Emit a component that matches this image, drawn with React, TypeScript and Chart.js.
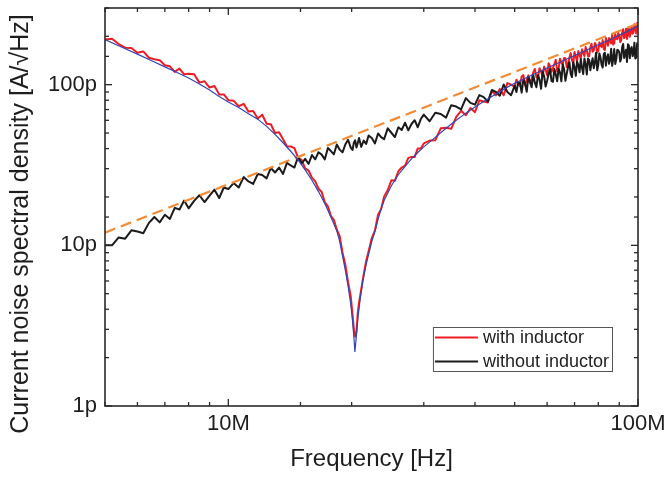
import React, { useEffect, useRef } from 'react';
import { Chart, registerables } from 'chart.js';

Chart.register(...registerables);

// ---- data (frequency in MHz, noise density in pA/√Hz) ----
const freqMHz = [
  5.0, 5.2, 5.4, 5.6, 5.8, 6.0, 6.2, 6.4, 6.6, 6.8, 7.0, 7.2, 7.4, 7.6, 7.8, 8.0, 8.25, 8.5, 8.75, 9.0, 9.25, 9.5, 9.75, 10.0,
  10.3, 10.6, 10.9, 11.2, 11.5, 11.8, 12.1, 12.4, 12.7, 13.0, 13.3, 13.6, 13.9, 14.2, 14.5, 14.8, 15.1, 15.4, 15.7, 16.0,
  16.3, 16.6, 16.9, 17.2, 17.5, 17.8, 18.1, 18.4, 18.7, 19.0, 19.3, 19.6, 19.9, 20.1, 20.25, 20.4, 20.55, 20.7, 20.85, 21.1, 21.4, 21.7, 22.0,
  22.4, 22.8, 23.2, 23.6, 24.0, 24.5, 25.0, 25.5, 26.0, 26.5, 27.0, 27.5, 28.0, 28.5, 29.0, 29.5, 30.0,
  31, 32, 33, 34, 35, 36, 37, 38, 39, 40, 41, 42, 43, 44, 45, 46, 47, 48, 49, 50,
  50.5, 51, 51.5, 52, 52.5, 53, 53.5, 54, 54.5, 55,
  55.5, 56, 56.5, 57, 57.5, 58, 58.5, 59, 59.5, 60,
  60.5, 61, 61.5, 62, 62.5, 63, 63.5, 64, 64.5, 65,
  65.5, 66, 66.5, 67, 67.5, 68, 68.5, 69, 69.5, 70,
  70.5, 71, 71.5, 72, 72.5, 73, 73.5, 74, 74.5, 75,
  75.5, 76, 76.5, 77, 77.5, 78, 78.5, 79, 79.5, 80,
  80.5, 81, 81.5, 82, 82.5, 83, 83.5, 84, 84.5, 85,
  85.5, 86, 86.5, 87, 87.5, 88, 88.5, 89, 89.5, 90,
  90.5, 91, 91.5, 92, 92.5, 93, 93.5, 94, 94.5, 95,
  95.5, 96, 96.5, 97, 97.5, 98, 98.5, 99, 99.5, 100,
];

const withInductor = [
  191, 193, 179, 170, 169, 158, 161, 147, 144, 142, 132, 130, 120, 126, 116, 117, 116, 103, 105, 96, 98, 87, 87, 80,
  79.5, 73.4, 75.9, 68, 68.6, 61.6, 65, 57.2, 56.7, 50, 50.6, 45.7, 41.4, 41.2, 40.3, 35, 34, 30.1, 29.2, 26.4,
  25, 22.5, 21.5, 18.5, 17.5, 15.2, 14.4, 12.5, 11.4, 9.0, 7.6, 5.9, 4.8, 3.7, 3.0, 2.7, 2.9, 3.8, 4.4, 5.3, 6.6, 8.0, 9.2,
  11.1, 12.4, 15.5, 16.8, 20.1, 22.1, 25.4, 25.2, 28.9, 30.5, 31.3, 35, 35.5, 35.5, 40.1, 40.1, 43.1,
  44.9, 45.1, 53.5, 54, 53.1, 63, 68.7, 64.5, 71.6, 67.4, 80, 78.5, 77.4, 91.3, 85.8, 94.1, 86, 102.3, 100, 96.9,
  107.3, 101.4, 98.3, 112.4, 114.7, 99.6, 106.3, 114.2, 101.9, 108.8,
  119.2, 125.2, 111.1, 111.1, 126.7, 120.8, 112.1, 129.5, 123.2, 114.3,
  135.9, 130.8, 120.2, 126.7, 134.5, 142.6, 120.8, 126, 145.1, 136.7,
  133.7, 146.3, 146.1, 128.6, 135.5, 147, 157.1, 142, 135.6, 159.6,
  148.6, 140.6, 161.9, 152.3, 145.5, 165.9, 157.5, 150.7, 171.4, 162.9,
  150.8, 150.3, 171.6, 179.7, 160.5, 163.4, 181.9, 176.2, 158.1, 162.8,
  183.5, 174.1, 171.7, 189.3, 166.7, 164.2, 195, 183.3, 175, 195.2,
  188.8, 180.5, 205.1, 177.5, 180.5, 207.4, 192.7, 192, 209.6, 203,
  184, 189.5, 211.3, 221, 195, 200.5, 223.1, 192.6, 206.9, 223.5,
  198.8, 213.4, 230.4, 207.4, 211, 237.3, 225.2, 208.4, 242, 236.6,
];

const withoutInductor = [
  10.0, 10.0, 11.2, 11.0, 12.4, 12.2, 11.9, 13.8, 15.0, 13.9, 15.5, 14.6, 17.1, 16.7, 19.0, 17.0, 18.9, 20.5, 18.6, 20.4, 22.2, 19.7, 22.9, 22.4,
  24.4, 22.9, 26.6, 25.0, 24.1, 27.8, 27.4, 26.1, 30.3, 28.4, 30.5, 27.8, 32.6, 31.4, 30.5, 35.5, 32.3, 34.5, 32.1, 36.5,
  34.3, 38.0, 36.7, 34.3, 40.3, 38.6, 36.9, 42.4, 39.4, 37.9, 42.4, 45.4, 40.6, 39.2, 43.6, 45.0, 40.6, 43.4, 46.5, 41.0, 44.9, 42.8, 48.2,
  46.6, 43.1, 49.7, 47.1, 45.8, 53.5, 50.2, 47.2, 54.3, 52.2, 58.0, 52.0, 56.9, 60.1, 54.3, 61.1, 65.1,
  59.2, 66.8, 65.7, 62.3, 74.5, 73.1, 70.1, 82.5, 77.0, 75.1, 86.1, 83.6, 78.5, 92.7, 90.0, 85.4, 100.2, 90.1, 86.0, 98.7,
  90, 103.1, 102.9, 89.2, 107.5, 101.5, 90.3, 112, 104.7, 96.4,
  114.5, 103, 96.4, 115, 107.3, 94.3, 120.6, 112.9, 97.4, 105.7,
  116.3, 124.9, 105.6, 104.2, 125.1, 115.8, 105.1, 125.4, 119.2, 104.9,
  133.6, 125.1, 105.6, 117.1, 128.6, 137.9, 116.8, 111.5, 138, 129,
  113.5, 139.3, 132.5, 119.4, 144.3, 127.2, 116.3, 145.6, 134.6, 115.7,
  145.4, 142.3, 123, 135.8, 146, 126.5, 138.1, 158.1, 123, 133.4,
  156.5, 147.5, 132.7, 127.8, 155.5, 157.9, 131.2, 147.9, 154.4, 134.8,
  142.8, 167.2, 130.9, 145, 166.7, 134.4, 144.1, 164.7, 163.9, 158.6,
  139.2, 146.2, 171.8, 179, 146.5, 156.4, 164.8, 138.3, 178.6, 174.4,
  146.1, 167.4, 171.2, 150.7, 156, 182.6, 145.5, 147.6, 181, 174.9,
];

const fitFreqMHz = [
  5, 5.5, 6, 6.5, 7, 7.5, 8, 8.5, 9, 9.5, 10,
  10.6, 11.2, 11.8, 12.4, 13, 13.6, 14.2, 14.8, 15.4, 16,
  16.6, 17.2, 17.8, 18.4, 18.7, 19, 19.3, 19.6, 19.9, 20.1,
  20.25, 20.37, 20.5, 20.7, 21, 21.3, 21.7, 22, 22.4, 22.8,
  23.2, 23.6, 24, 25, 26, 27, 28, 29, 30, 32,
  34, 36, 38, 40, 42, 44, 46, 48, 50, 55,
  60, 65, 70, 75, 80, 85, 90, 95, 100,
];

const fitValues = [
  191, 171, 155, 141, 129, 119, 110, 101, 92.5, 84.5, 78,
  72, 66, 61, 55, 49, 43.5, 38.5, 34, 29.5, 25.4,
  21.6, 18.2, 15, 12.3, 10.6, 8.6, 7.0, 5.6, 4.3, 3.4,
  2.7, 2.17, 2.6, 3.5, 4.7, 6.0, 7.6, 8.8, 10.6, 12.2,
  14.5, 16.8, 19, 23.5, 27.5, 31, 34.5, 37.8, 41, 47,
  53.5, 60, 66.5, 72.5, 78.5, 84.5, 90.5, 96.5, 102, 114.5,
  127, 139.5, 152, 164.5, 177, 189.5, 203, 217, 232,
];

const guideFreqMHz = [5, 100];
const guideValues = [12, 240];

const xTickValues = [10, 100];
const xTickLabels = ['10M', '100M'];
const yTickValues = [1, 10, 100];
const yTickLabels = ['1p', '10p', '100p'];
const seriesLabels = ['with inductor', 'without inductor'];
const xTitle = 'Frequency [Hz]';
const yTitle = 'Current noise spectral density [A/\u221AHz]';

// ---- styles ----
const FONT = '"Liberation Sans", Arial, Helvetica, sans-serif';
const TEXT = '#1e1e1e';
const AXIS = '#2a2a2a';
const RED = '#ee1d23';
const BLACK = '#1b1b1b';
const BLUE = '#2f47b5';
const ORANGE = '#f28b35';

function labelFor(v: number, values: number[], labels: string[]) {
  for (let i = 0; i < values.length; i++) {
    if (Math.abs(v - values[i]) / values[i] < 1e-6) return labels[i];
  }
  return '';
}

function isDecade(v: number) {
  const l = Math.log10(v);
  return Math.abs(l - Math.round(l)) < 1e-6;
}

const framePlugin = {
  id: 'frameTicksLegend',
  afterDatasetsDraw(chart: any) {
    const { ctx, chartArea: a, scales } = chart;
    const x = scales.x;
    const y = scales.y;
    ctx.save();
    ctx.strokeStyle = AXIS;
    ctx.lineWidth = 1.6;
    ctx.lineCap = 'butt';
    ctx.strokeRect(a.left, a.top, a.right - a.left, a.bottom - a.top);
    ctx.lineWidth = 1.3;
    const seg = (x1: number, y1: number, x2: number, y2: number) => {
      ctx.beginPath();
      ctx.moveTo(x1, y1);
      ctx.lineTo(x2, y2);
      ctx.stroke();
    };
    for (const t of x.ticks) {
      const px = x.getPixelForValue(t.value);
      const len = isDecade(t.value) ? 7 : 4;
      seg(px, a.bottom, px, a.bottom - len);
      seg(px, a.top, px, a.top + len);
    }
    for (const t of y.ticks) {
      const py = y.getPixelForValue(t.value);
      const len = isDecade(t.value) ? 7 : 4;
      seg(a.left, py, a.left + len, py);
      seg(a.right, py, a.right - len, py);
    }
    ctx.restore();
  },
  afterDraw(chart: any) {
    const { ctx, chartArea: a } = chart;
    ctx.save();
    // y-axis title
    ctx.fillStyle = TEXT;
    ctx.font = `25px ${FONT}`;
    ctx.textAlign = 'center';
    ctx.textBaseline = 'alphabetic';
    ctx.translate(a.left - 77, (a.top + a.bottom) / 2 + 17);
    ctx.rotate(-Math.PI / 2);
    ctx.fillText(yTitle, 0, 0);
    ctx.restore();

    // legend
    ctx.save();
    ctx.font = `18px ${FONT}`;
    const items = seriesLabels.map((lab) => {
      const ds = chart.data.datasets.find((d: any) => d.label === lab);
      return { lab, color: ds ? ds.borderColor : '#000' };
    });
    const textW = Math.max(...items.map((it) => ctx.measureText(it.lab).width));
    const lineLen = 43;
    const boxW = 2 + lineLen + 5 + textW + 3;
    const boxH = 44;
    const right = a.right - 26;
    const bottom = a.bottom - 35;
    const left = right - boxW;
    const top = bottom - boxH;
    ctx.fillStyle = '#ffffff';
    ctx.fillRect(left, top, boxW, boxH);
    ctx.strokeStyle = '#555555';
    ctx.lineWidth = 1;
    ctx.strokeRect(left + 0.5, top + 0.5, boxW, boxH);
    items.forEach((it, i) => {
      const cy = top + 10.5 + i * 24;
      ctx.strokeStyle = it.color;
      ctx.lineWidth = 2;
      ctx.beginPath();
      ctx.moveTo(left + 2, cy);
      ctx.lineTo(left + 2 + lineLen, cy);
      ctx.stroke();
      ctx.fillStyle = TEXT;
      ctx.textAlign = 'left';
      ctx.textBaseline = 'middle';
      ctx.fillText(it.lab, left + 2 + lineLen + 5, cy + 1);
    });
    ctx.restore();
  },
};

export default function App() {
  const ref = useRef<HTMLCanvasElement>(null);

  useEffect(() => {
    const toPts = (xs: number[], ys: number[]) => xs.map((xv, i) => ({ x: xv, y: ys[i] }));
    const chart = new Chart(ref.current as HTMLCanvasElement, {
      type: 'line',
      data: {
        datasets: [
          {
            label: 'fit',
            data: toPts(fitFreqMHz, fitValues),
            borderColor: BLUE,
            borderWidth: 1.2,
            pointRadius: 0,
            tension: 0,
            order: 0,
          },
          {
            label: 'guide',
            data: toPts(guideFreqMHz, guideValues),
            borderColor: ORANGE,
            borderWidth: 2.2,
            borderDash: [11, 6],
            pointRadius: 0,
            order: 1,
          },
          {
            label: seriesLabels[1],
            data: toPts(freqMHz, withoutInductor),
            borderColor: BLACK,
            borderWidth: 2,
            borderJoinStyle: 'round',
            pointRadius: 0,
            order: 2,
          },
          {
            label: seriesLabels[0],
            data: toPts(freqMHz, withInductor),
            borderColor: RED,
            borderWidth: 2,
            borderJoinStyle: 'round',
            pointRadius: 0,
            order: 3,
          },
        ],
      } as any,
      options: {
        animation: false,
        responsive: true,
        maintainAspectRatio: false,
        layout: { padding: { left: 0, top: 8, right: 32, bottom: 0 } },
        plugins: { legend: { display: false }, tooltip: { enabled: false } },
        scales: {
          x: {
            type: 'logarithmic',
            min: 5,
            max: 100,
            grid: { display: false, drawTicks: false },
            border: { display: false },
            ticks: {
              autoSkip: false,
              maxRotation: 0,
              minRotation: 0,
              padding: 5,
              color: TEXT,
              font: { family: FONT, size: 22 },
              callback: (v: any) => labelFor(Number(v), xTickValues, xTickLabels),
            },
            title: {
              display: true,
              text: xTitle,
              color: TEXT,
              font: { family: FONT, size: 24 },
              padding: { top: 0, bottom: 7 },
            },
            afterFit: (s: any) => {
              s.height = 75;
              s.paddingLeft = 0;
              s.paddingRight = 0;
            },
          },
          y: {
            type: 'logarithmic',
            min: 1,
            max: 300,
            grid: { display: false, drawTicks: false },
            border: { display: false },
            ticks: {
              autoSkip: false,
              padding: 8,
              color: TEXT,
              font: { family: FONT, size: 22 },
              callback: (v: any) => labelFor(Number(v), yTickValues, yTickLabels),
            },
            afterFit: (s: any) => {
              s.width = 105;
              s.paddingTop = 0;
              s.paddingBottom = 0;
            },
          },
        },
      } as any,
      plugins: [framePlugin],
    });
    return () => chart.destroy();
  }, []);

  return (
    <div
      style={{
        position: 'absolute',
        left: 0,
        top: 0,
        width: 670,
        height: 481,
        background: '#ffffff',
      }}
    >
      <canvas ref={ref} />
    </div>
  );
}
